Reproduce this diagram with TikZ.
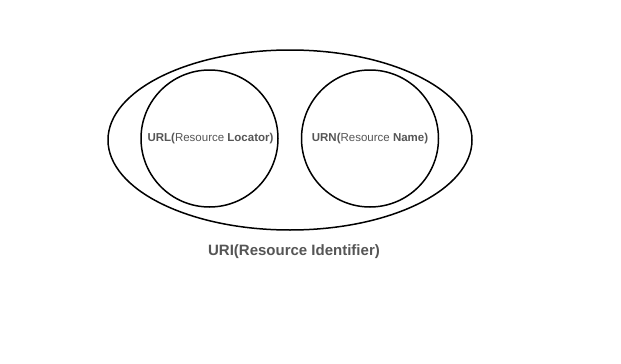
\documentclass[tikz,border=0pt]{standalone}
\usepackage{fontspec}
\setmainfont{Liberation Sans}
\usetikzlibrary{shapes.geometric}
\definecolor{txt}{HTML}{555555}
\begin{document}
\begin{tikzpicture}[x=1pt,y=-1pt,
  shapeline/.style={draw=black,line width=1.5pt},
  lbl/.style={text=txt,inner sep=0pt}]
\useasboundingbox (0,0) rectangle (621,364);
\node[shapeline,ellipse,minimum width=364pt,minimum height=180pt,inner sep=0pt] (uri) at (290,140) {};
\node[shapeline,circle,minimum size=137pt,inner sep=0pt] (url) at (209.5,138.5) {};
\node[shapeline,circle,minimum size=137pt,inner sep=0pt] (urn) at (370,138.5) {};
\node[lbl,font=\fontsize{11.5}{13}\selectfont] at (210.5,138.5) {\textbf{URL(}Resource \textbf{Locator)}};
\node[lbl,font=\fontsize{11.5}{13}\selectfont] at (370,138.5) {\textbf{URN(}Resource \textbf{Name)}};
\node[lbl,font=\fontsize{15}{17}\selectfont\bfseries] (uril) at (294,252) {URI(Resource Identifier)};
\end{tikzpicture}
\end{document}
